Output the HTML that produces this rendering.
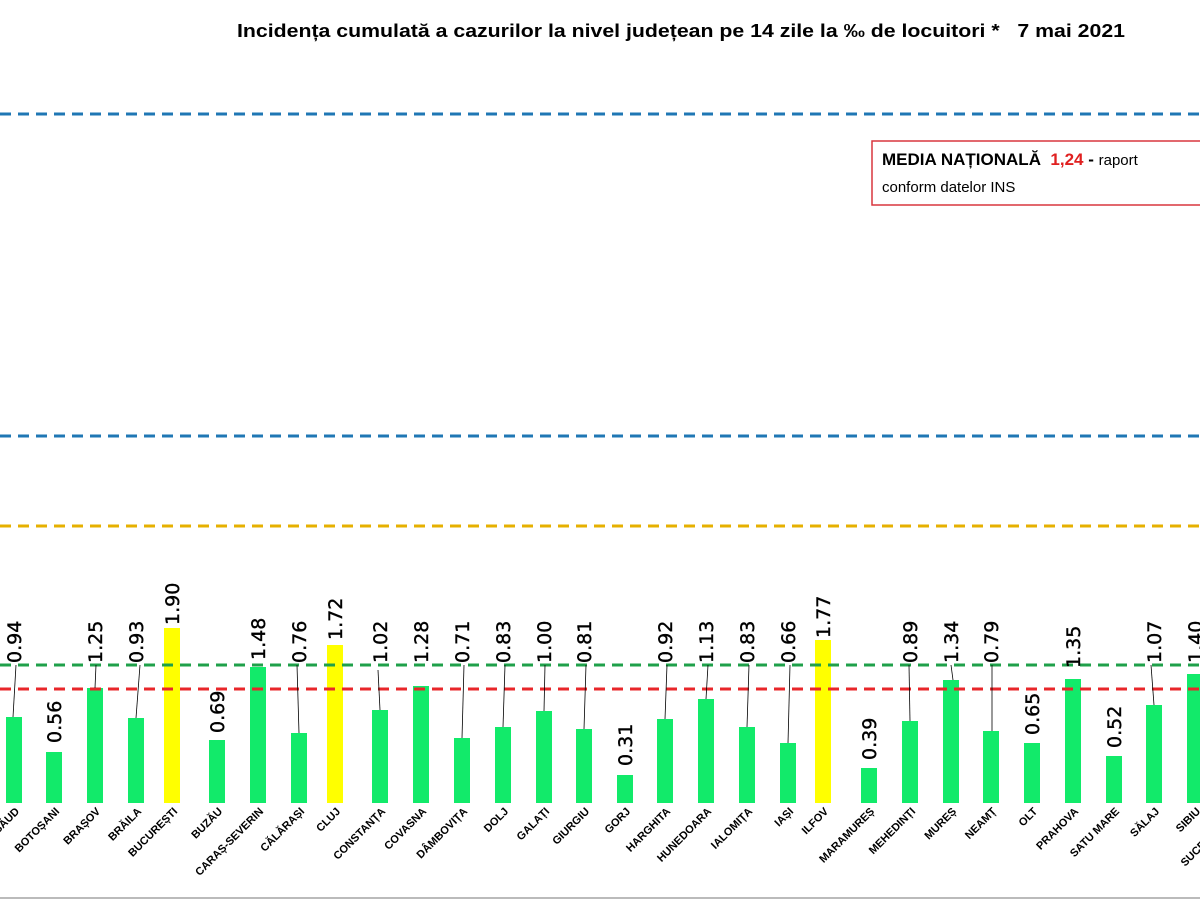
<!DOCTYPE html>
<html><head><meta charset="utf-8"><style>
html,body{margin:0;padding:0;background:#fff;width:1200px;height:900px;overflow:hidden}
svg{display:block}
.v{font-family:"DejaVu Sans","Liberation Sans",sans-serif;font-size:19px;fill:#000;stroke:#000;stroke-width:0.4}
.c{font-family:"Liberation Sans","DejaVu Sans",sans-serif;font-size:11px;font-weight:bold;fill:#000}
</style></head><body>
<svg width="1200" height="900" viewBox="0 0 1200 900">
<text x="237" y="37" textLength="888" lengthAdjust="spacingAndGlyphs" xml:space="preserve" font-family="Liberation Sans,sans-serif" font-weight="bold" font-size="18">Incidența cumulată a cazurilor la nivel județean pe 14 zile la ‰ de locuitori *   7 mai 2021</text>
<g stroke-width="3" stroke-dasharray="11 7" fill="none">
<line x1="0" y1="114" x2="1200" y2="114" stroke="#1f77b4"/>
<line x1="0" y1="436" x2="1200" y2="436" stroke="#1f77b4"/>
<line x1="0" y1="526" x2="1200" y2="526" stroke="#e6b000"/>
</g>
<rect x="872" y="141" width="340" height="64" fill="#fff" stroke="#d9363e" stroke-width="1.5"/>
<text x="882" y="165" xml:space="preserve" font-family="Liberation Sans,sans-serif" font-size="17" font-weight="bold">MEDIA NAȚIONALĂ  <tspan fill="#e02020">1,24</tspan> - <tspan font-weight="normal" font-size="15">raport</tspan></text>
<text x="882" y="192" font-family="Liberation Sans,sans-serif" font-size="15">conform datelor INS</text>
<g fill="#12ea6a">
<rect x="6" y="717" width="16" height="86"/><rect x="46" y="752" width="16" height="51"/><rect x="87" y="688" width="16" height="115"/><rect x="128" y="718" width="16" height="85"/>
<rect x="209" y="740" width="16" height="63"/><rect x="250" y="667" width="16" height="136"/><rect x="291" y="733" width="16" height="70"/>
<rect x="372" y="710" width="16" height="93"/><rect x="413" y="686" width="16" height="117"/><rect x="454" y="738" width="16" height="65"/><rect x="495" y="727" width="16" height="76"/><rect x="536" y="711" width="16" height="92"/><rect x="576" y="729" width="16" height="74"/><rect x="617" y="775" width="16" height="28"/><rect x="657" y="719" width="16" height="84"/><rect x="698" y="699" width="16" height="104"/><rect x="739" y="727" width="16" height="76"/><rect x="780" y="743" width="16" height="60"/>
<rect x="861" y="768" width="16" height="35"/><rect x="902" y="721" width="16" height="82"/><rect x="943" y="680" width="16" height="123"/><rect x="983" y="731" width="16" height="72"/><rect x="1024" y="743" width="16" height="60"/><rect x="1065" y="679" width="16" height="124"/><rect x="1106" y="756" width="16" height="47"/><rect x="1146" y="705" width="16" height="98"/><rect x="1187" y="674" width="16" height="129"/>
</g>
<g fill="#ffff00">
<rect x="164" y="628" width="16" height="175"/><rect x="327" y="645" width="16" height="158"/><rect x="815" y="640" width="16" height="163"/>
</g>
<g stroke-width="3" stroke-dasharray="11 7" fill="none">
<line x1="0" y1="665" x2="1200" y2="665" stroke="#1fa04a"/>
<line x1="0" y1="689" x2="1200" y2="689" stroke="#e8262a"/>
</g>
<g stroke="#000" stroke-width="0.8">
<line x1="16" y1="665" x2="13" y2="717"/><line x1="96" y1="665" x2="95" y2="688"/><line x1="140" y1="665" x2="136" y2="718"/><line x1="297" y1="665" x2="299" y2="733"/><line x1="378" y1="670" x2="380" y2="710"/><line x1="464" y1="665" x2="462" y2="738"/><line x1="505" y1="665" x2="503" y2="727"/><line x1="545" y1="665" x2="544" y2="711"/><line x1="586" y1="665" x2="584" y2="729"/><line x1="667" y1="665" x2="665" y2="719"/><line x1="708" y1="665" x2="706" y2="699"/><line x1="749" y1="665" x2="747" y2="727"/><line x1="790" y1="665" x2="788" y2="743"/><line x1="909" y1="665" x2="910" y2="721"/><line x1="951" y1="665" x2="953" y2="680"/><line x1="992" y1="665" x2="992" y2="731"/><line x1="1151" y1="665" x2="1154" y2="705"/>
</g>
<g class="v">
<text transform="translate(21,663) rotate(-90)">0.94</text>
<text transform="translate(61,743) rotate(-90)">0.56</text>
<text transform="translate(102,663) rotate(-90)">1.25</text>
<text transform="translate(143,663) rotate(-90)">0.93</text>
<text transform="translate(179,625) rotate(-90)">1.90</text>
<text transform="translate(224,733) rotate(-90)">0.69</text>
<text transform="translate(265,660) rotate(-90)">1.48</text>
<text transform="translate(306,663) rotate(-90)">0.76</text>
<text transform="translate(342,640) rotate(-90)">1.72</text>
<text transform="translate(387,663) rotate(-90)">1.02</text>
<text transform="translate(428,663) rotate(-90)">1.28</text>
<text transform="translate(469,663) rotate(-90)">0.71</text>
<text transform="translate(510,663) rotate(-90)">0.83</text>
<text transform="translate(551,663) rotate(-90)">1.00</text>
<text transform="translate(591,663) rotate(-90)">0.81</text>
<text transform="translate(632,766) rotate(-90)">0.31</text>
<text transform="translate(672,663) rotate(-90)">0.92</text>
<text transform="translate(713,663) rotate(-90)">1.13</text>
<text transform="translate(754,663) rotate(-90)">0.83</text>
<text transform="translate(795,663) rotate(-90)">0.66</text>
<text transform="translate(830,638) rotate(-90)">1.77</text>
<text transform="translate(876,760) rotate(-90)">0.39</text>
<text transform="translate(917,663) rotate(-90)">0.89</text>
<text transform="translate(958,663) rotate(-90)">1.34</text>
<text transform="translate(998,663) rotate(-90)">0.79</text>
<text transform="translate(1039,735) rotate(-90)">0.65</text>
<text transform="translate(1080,668) rotate(-90)">1.35</text>
<text transform="translate(1121,748) rotate(-90)">0.52</text>
<text transform="translate(1161,663) rotate(-90)">1.07</text>
<text transform="translate(1202,663) rotate(-90)">1.40</text>
</g>
<g class="c" text-anchor="end">
<text transform="translate(20,812) rotate(-45)">BISTRIȚA-NĂSĂUD</text>
<text transform="translate(60,812) rotate(-45)">BOTOȘANI</text>
<text transform="translate(101,812) rotate(-45)">BRAȘOV</text>
<text transform="translate(142,812) rotate(-45)">BRĂILA</text>
<text transform="translate(178,812) rotate(-45)">BUCUREȘTI</text>
<text transform="translate(223,812) rotate(-45)">BUZĂU</text>
<text transform="translate(264,812) rotate(-45)">CARAȘ-SEVERIN</text>
<text transform="translate(305,812) rotate(-45)">CĂLĂRAȘI</text>
<text transform="translate(341,812) rotate(-45)">CLUJ</text>
<text transform="translate(386,812) rotate(-45)">CONSTANȚA</text>
<text transform="translate(427,812) rotate(-45)">COVASNA</text>
<text transform="translate(468,812) rotate(-45)">DÂMBOVIȚA</text>
<text transform="translate(509,812) rotate(-45)">DOLJ</text>
<text transform="translate(550,812) rotate(-45)">GALAȚI</text>
<text transform="translate(590,812) rotate(-45)">GIURGIU</text>
<text transform="translate(631,812) rotate(-45)">GORJ</text>
<text transform="translate(671,812) rotate(-45)">HARGHITA</text>
<text transform="translate(712,812) rotate(-45)">HUNEDOARA</text>
<text transform="translate(753,812) rotate(-45)">IALOMIȚA</text>
<text transform="translate(794,812) rotate(-45)">IAȘI</text>
<text transform="translate(829,812) rotate(-45)">ILFOV</text>
<text transform="translate(875,812) rotate(-45)">MARAMUREȘ</text>
<text transform="translate(916,812) rotate(-45)">MEHEDINȚI</text>
<text transform="translate(957,812) rotate(-45)">MUREȘ</text>
<text transform="translate(997,812) rotate(-45)">NEAMȚ</text>
<text transform="translate(1038,812) rotate(-45)">OLT</text>
<text transform="translate(1079,812) rotate(-45)">PRAHOVA</text>
<text transform="translate(1120,812) rotate(-45)">SATU MARE</text>
<text transform="translate(1160,812) rotate(-45)">SĂLAJ</text>
<text transform="translate(1201,812) rotate(-45)">SIBIU</text>
<text transform="translate(1222,830) rotate(-45)">SUCEAVA</text>
</g>
<line x1="0" y1="898" x2="1200" y2="898" stroke="#bbb" stroke-width="2"/>
</svg>
</body></html>
